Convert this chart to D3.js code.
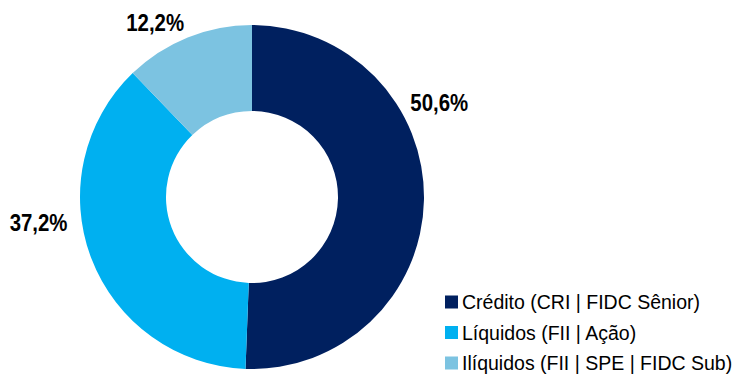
<!DOCTYPE html>
<html lang="pt">
  <head>
    <meta charset="UTF-8" />
    <title>Alocação</title>
    <script src="https://d3js.org/d3.v7.min.js"></script>
    <style>
      body {
        margin: 0;
        background: #ffffff;
      }
      .pct-label {
        font-family: "Liberation Sans", Arial, sans-serif;
        font-weight: bold;
        font-size: 24px;
        fill: #000;
      }
      .legend-text {
        font-family: "Liberation Sans", Arial, sans-serif;
        font-size: 19.5px;
        fill: #000;
      }
    </style>
  </head>
  <body>
    <div id="chart"></div>
    <script>
      // data
      const categories = [
        "Crédito (CRI | FIDC Sênior)",
        "Líquidos (FII | Ação)",
        "Ilíquidos (FII | SPE | FIDC Sub)"
      ];
      const values = [50.6, 37.2, 12.2];
      const labels = ["50,6%", "37,2%", "12,2%"];

      const colors = ["#00205f", "#00b0f0", "#7cc3e1"];

      const width = 736;
      const height = 374;
      const cx = 252;
      const cy = 197;
      const outerR = 172;
      const innerR = 86;

      // Excel-style label placement tweaks (degrees, radius)
      const labelNudge = [-28, 14, -7];
      const labelRadius = [210, 215, 200];

      const svg = d3
        .select("#chart")
        .append("svg")
        .attr("width", width)
        .attr("height", height);

      const pie = d3.pie().sort(null).value((d) => d);
      const arcs = pie(values);
      const arc = d3.arc().innerRadius(innerR).outerRadius(outerR);

      const g = svg.append("g").attr("transform", `translate(${cx},${cy})`);

      g.selectAll("path")
        .data(arcs)
        .join("path")
        .attr("d", arc)
        .attr("fill", (d, i) => colors[i]);

      // condensed look: squeeze bold text horizontally
      g.selectAll(".pct-label")
        .data(arcs)
        .join("text")
        .attr("class", "pct-label")
        .attr("text-anchor", "middle")
        .attr("dy", "0.36em")
        .attr("transform", (d, i) => {
          const a = (d.startAngle + d.endAngle) / 2 + (labelNudge[i] * Math.PI) / 180;
          const [x, y] = d3.pointRadial(a, labelRadius[i]);
          return `translate(${x},${y}) scale(0.85,1)`;
        })
        .text((d, i) => labels[i]);

      // legend
      const legend = svg
        .append("g")
        .attr("transform", "translate(445,302)");

      const rows = legend
        .selectAll("g")
        .data(categories)
        .join("g")
        .attr("transform", (d, i) => `translate(0,${i * 30.5})`);

      rows
        .append("rect")
        .attr("x", 0)
        .attr("y", -6.5)
        .attr("width", 13)
        .attr("height", 13)
        .attr("fill", (d, i) => colors[i]);

      rows
        .append("text")
        .attr("class", "legend-text")
        .attr("x", 17)
        .attr("dy", "0.36em")
        .text((d) => d);
    </script>
  </body>
</html>
